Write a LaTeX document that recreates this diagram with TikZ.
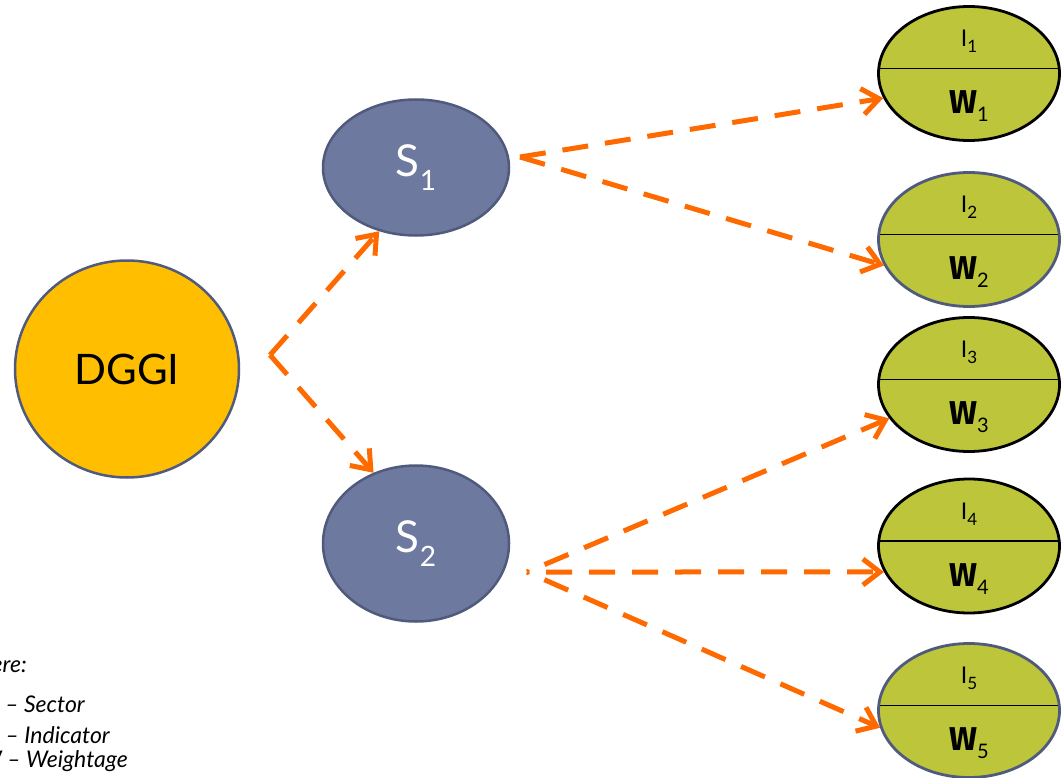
\documentclass[tikz,border=0pt]{standalone}
\usepackage{fontspec}
\setmainfont{Lato}
\newfontfamily\wfont{Fira Sans}
\usetikzlibrary{arrows.meta,shapes.geometric}
\definecolor{amber}{HTML}{FFBF00}
\definecolor{slate}{HTML}{6E79A0}
\definecolor{slateedge}{HTML}{4F5A7C}
\definecolor{olive}{HTML}{BDC53A}
\definecolor{arrowor}{HTML}{FF6A00}
\newcommand{\lsub}[3]{\raisebox{-#3}{\fontsize{#1}{#1}\selectfont #2}}
\begin{document}
\begin{tikzpicture}[x=1pt,y=-1pt,
  rootnode/.style={ellipse, draw=slateedge, line width=2.5pt, fill=amber,
    minimum width=224pt, minimum height=217pt, inner sep=0pt,
    font=\fontsize{42}{42}\selectfont},
  sector/.style={ellipse, draw=slateedge, line width=2.5pt, fill=slate,
    minimum width=186pt, inner sep=0pt, text=white,
    font=\fontsize{44}{44}\selectfont},
  indic/.style={ellipse, fill=olive, line width=2.8pt,
    minimum width=181pt, minimum height=134pt, inner sep=0pt,
    path picture={\draw[black, line width=1.5pt]
      ([yshift=5pt]path picture bounding box.west) --
      ([yshift=5pt]path picture bounding box.east);}},
  itext/.style={inner sep=0pt, font=\fontsize{23}{23}\selectfont},
  wtext/.style={inner sep=0pt, font=\fontsize{33}{33}\selectfont},
  legend/.style={inner sep=0pt, font=\fontsize{23}{23}\selectfont\itshape},
  flow/.style={draw=arrowor, line width=5pt, dash pattern=on 26pt off 17pt,
    -{Straight Barb[length=17pt,width=26pt]}},
]
\useasboundingbox (0,0) rectangle (1062,778);
\clip (0,0) rectangle (1062,778);

% nodes
\node[rootnode] (D) at (127,369) {DGGI};
\node[sector, minimum height=136pt] (S1) at (416,167.5) {S\lsub{28}{1}{14pt}};
\node[sector, minimum height=156pt] (S2) at (416,543.5) {S\lsub{28}{2}{14pt}};

\foreach \i/\yy/\bc in {1/73.5/black, 2/239.5/slateedge, 3/384.5/black,
                        4/546/black, 5/710.5/slateedge}{
  \node[indic, draw=\bc] (I\i) at (969,\yy) {};
  \node[itext] (I\i t) at ([yshift=32pt]I\i.center) {I\lsub{17}{\i}{6pt}};
  \node[wtext] (I\i w) at ([yshift=-33pt]I\i.center) {{\wfont\bfseries W}\lsub{20}{\i}{8pt}};
}

% connector start points
\coordinate (j) at (270,355);
\coordinate (s1o) at (520,157);
\coordinate (s2o) at (527,572);

\draw[flow] (j) -- (S1.240);
\draw[flow] (j) -- (S2.121);
\draw[flow] (s1o) -- (I1.196);
\draw[flow] (s1o) -- (I2.197);
\draw[flow, dash phase=24pt] (s2o) -- (I3.203);
\draw[flow, dash phase=24pt] (s2o) -- (I4.197);
\draw[flow, dash phase=24pt] (s2o) -- (I5.191);

% legend
\node[legend, anchor=base east] (lg0) at (27,672) {Where:};
\node[legend, anchor=base east] (lg1) at (85,712) {S – Sector};
\node[legend, anchor=base east] (lg2) at (110,743) {I – Indicator};
\node[legend, anchor=base east] (lg3) at (128,767) {W – Weightage};
\end{tikzpicture}
\end{document}
